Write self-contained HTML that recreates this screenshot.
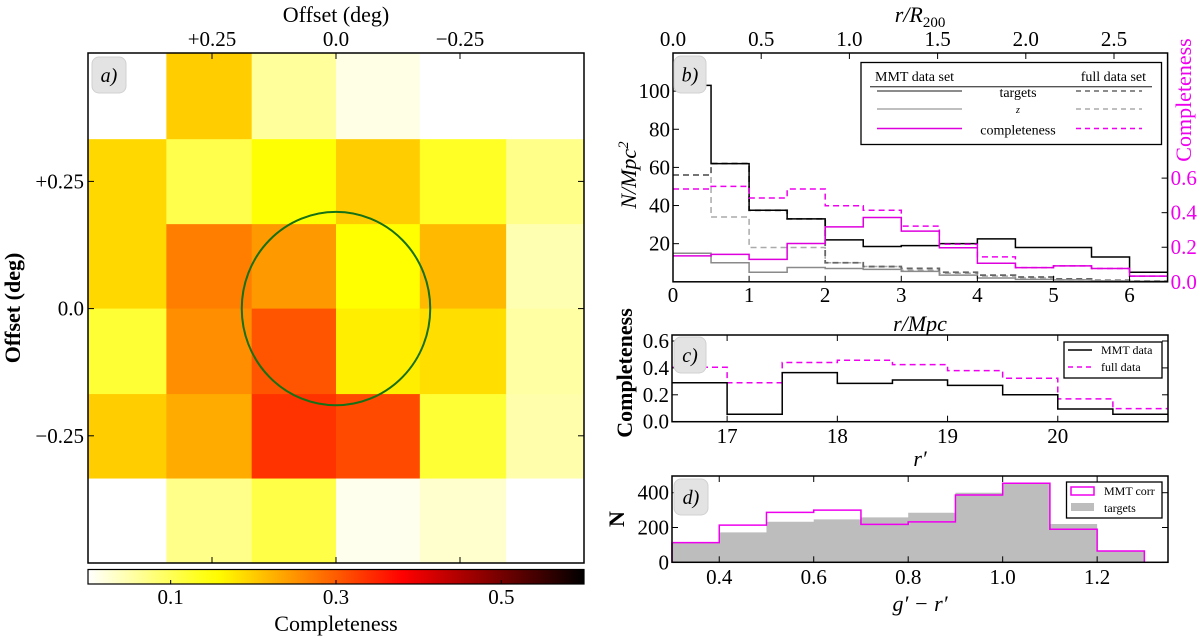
<!DOCTYPE html>
<html><head><meta charset="utf-8"><style>
html,body{margin:0;padding:0;background:#fff;width:1200px;height:638px;overflow:hidden}
svg text{font-family:"Liberation Serif",serif;fill:#000}
</style></head><body>
<svg id="fig" width="1200" height="638" viewBox="0 0 1200 638" xmlns="http://www.w3.org/2000/svg"></svg>
<script>
// ---------- Panel a data ----------
const aColEdgesDeg = [0.5, 0.342, 0.170, 0.0, -0.169, -0.343, -0.5];
const aRowEdgesDeg = [0.502, 0.333, 0.166, 0.0, -0.168, -0.334, -0.501];
const aCompleteness = [
  [0.00,0.20,0.06,0.015,0.00,0.00],
  [0.19,0.107,0.15,0.20,0.13,0.07],
  [0.19,0.27,0.246,0.155,0.217,0.046],
  [0.12,0.255,0.307,0.171,0.185,0.055],
  [0.20,0.23,0.336,0.316,0.12,0.05],
  [0.00,0.07,0.11,0.01,0.03,0.00]
];
const aXTicks = [0.25, 0.0, -0.25];
const aXTickLabels = ["+0.25","0.0","\u22120.25"];
const aYTicks = [0.25, 0.0, -0.25];
const aYTickLabels = ["+0.25","0.0","\u22120.25"];
const cbTicks = [0.1,0.3,0.5];
const cbTickLabels = ["0.1","0.3","0.5"];
const circleRadiusDeg = 0.19;
// ---------- Panel b data ----------
const bEdges = [0,0.5,1,1.5,2,2.5,3,3.5,4,4.5,5,5.5,6,6.5];
const bMmtTargets = [103,62,37.5,33,22,18.5,19,20,22.5,18,18,13,5];
const bMmtZ = [15,10,5,7.5,7,6.5,5.5,3.5,2,1.3,1,0.5,0.3];
const bFullTargets = [56,62,37.5,33,10,8,7,5,3.5,2.5,1.5,0.8,0.4];
const bFullZ = [56,34,18,18,10,8,6,4.5,3,2,1,0.5,0.3];
const bMmtComp = [0.15,0.159,0.13,0.222,0.318,0.372,0.293,0.197,0.107,0.082,0.092,0.077,0.033];
const bFullComp = [0.537,0.552,0.485,0.537,0.44,0.414,0.322,0.217,0.144,0.082,0.092,0.077,0.033];
const bXTicks = [0,1,2,3,4,5,6];
const bYTicks = [20,40,60,80,100];
const bY2Ticks = [0.0,0.2,0.4,0.6];
const bY2TickLabels = ["0.0","0.2","0.4","0.6"];
const bTopTicks = [0.0,0.5,1.0,1.5,2.0,2.5];
const bTopTickLabels = ["0.0","0.5","1.0","1.5","2.0","2.5"];
// ---------- Panel c data ----------
const cEdges = [16.5,17,17.5,18,18.5,19,19.5,20,20.5,21];
const cMmt = [0.29,0.055,0.365,0.285,0.31,0.27,0.2,0.094,0.055];
const cFull = [0.405,0.29,0.44,0.457,0.424,0.38,0.323,0.17,0.097];
const cXTicks = [17,18,19,20];
const cYTicks = [0.0,0.2,0.4,0.6];
const cYTickLabels = ["0.0","0.2","0.4","0.6"];
// ---------- Panel d data ----------
const dEdges = [0.3,0.4,0.5,0.6,0.7,0.8,0.9,1.0,1.1,1.2,1.3];
const dTargets = [113,172,233,247,258,285,400,457,220,65];
const dMmtCorr = [113,214,287,300,218,232,387,454,190,65];
const dXTicks = [0.4,0.6,0.8,1.0,1.2];
const dXTickLabels = ["0.4","0.6","0.8","1.0","1.2"];
const dYTicks = [0,200,400];

const NS="http://www.w3.org/2000/svg";
const svg=document.getElementById('fig');
function el(tag,attrs,parent,txt){const e=document.createElementNS(NS,tag);for(const k in attrs)e.setAttribute(k,attrs[k]);if(txt!==undefined)e.textContent=txt;(parent||svg).appendChild(e);return e;}
function lin(d0,d1,p0,p1){return v=>p0+(v-d0)*(p1-p0)/(d1-d0);}
function hotR(c){const x=1-Math.min(1,Math.max(0,c/0.6));
  const cl=v=>Math.round(255*Math.min(1,Math.max(0,v)));
  return `rgb(${cl(x/0.365)},${cl((x-0.365)/0.375)},${cl((x-0.746)/0.254)})`;}
function stepPath(edges,vals,xs,ys,drop){let d=`M${xs(edges[0])},${drop?ys(0):ys(vals[0])}`;
  for(let i=0;i<vals.length;i++){d+=`L${xs(edges[i])},${ys(vals[i])}L${xs(edges[i+1])},${ys(vals[i])}`;}
  if(drop)d+=`L${xs(edges[edges.length-1])},${ys(0)}`;return d;}
function labelBox(x,y,w,h,t,name){const g=el('g',{});
  
  
  el('rect',{x:x,y:y,width:w,height:h,rx:7,fill:'#e3e3e3',stroke:'#d0d0d0'},g);
  el('text',{x:x+w/2,y:y+h/2+7,'text-anchor':'middle','font-size':20,'font-style':'italic'},g,t);}
const defs=el('defs',{});

// ================= Panel a =================
const aL=88,aR=584,aT=53,aB=563;
const axs=lin(0,-0.25,336,460), ays=lin(0,-0.25,308.6,435.8);
const clipA=el('clipPath',{id:'clipa'},defs);el('rect',{x:aL,y:aT,width:aR-aL,height:aB-aT},clipA);
const aG=el('g',{'clip-path':'url(#clipa)'});


for(let r=0;r<6;r++)for(let c=0;c<6;c++){
  const x0=axs(aColEdgesDeg[c]),x1=axs(aColEdgesDeg[c+1]),y0=ays(aRowEdgesDeg[r]),y1=ays(aRowEdgesDeg[r+1]);
  const rc=el('rect',{x:x0,y:y0,width:x1-x0+0.5,height:y1-y0+0.5,fill:hotR(aCompleteness[r][c])},aG);
  
  
}
const circ=el('ellipse',{cx:axs(0),cy:ays(0),rx:Math.abs(axs(circleRadiusDeg)-axs(0)),ry:Math.abs(ays(circleRadiusDeg)-ays(0)),fill:'none',stroke:'#167016','stroke-width':2});


const aFr=el('rect',{x:aL,y:aT,width:aR-aL,height:aB-aT,fill:'none',stroke:'#000','stroke-width':1.5});


aXTicks.forEach((t,i)=>{const x=axs(t);
  el('line',{x1:x,x2:x,y1:aT,y2:aT+6,stroke:'#000'});el('line',{x1:x,x2:x,y1:aB,y2:aB-6,stroke:'#000'});
  const tx=el('text',{x:x,y:46,'text-anchor':'middle','font-size':21},svg,aXTickLabels[i]);
  
  });
aYTicks.forEach((t,i)=>{const y=ays(t);
  el('line',{x1:aL,x2:aL+6,y1:y,y2:y,stroke:'#000'});el('line',{x1:aR,x2:aR-6,y1:y,y2:y,stroke:'#000'});
  const tx=el('text',{x:aL-4,y:y+7,'text-anchor':'end','font-size':21},svg,aYTickLabels[i]);
  
  });
let t=el('text',{x:336,y:22,'text-anchor':'middle','font-size':22},svg,'Offset (deg)');


t=el('text',{x:0,y:0,'text-anchor':'middle','font-size':22,'font-weight':'bold',transform:'translate(20,308) rotate(-90)'},svg,'Offset (deg)');


labelBox(92,57,34,36,'a)','panel-label-a');
// colorbar
const cbx=lin(0,0.6,88,584);
const lg=el('linearGradient',{id:'cbg',x1:0,x2:1,y1:0,y2:0},defs);
for(let i=0;i<=30;i++){el('stop',{offset:(i/30),'stop-color':hotR(0.6*i/30)},lg);}
const cb=el('rect',{x:88,y:569.5,width:496,height:14.5,fill:'url(#cbg)',stroke:'#000','stroke-width':1.2});


cbTicks.forEach((v,i)=>{const x=cbx(v);el('line',{x1:x,x2:x,y1:584,y2:580,stroke:'#000'});
  const tx=el('text',{x:x,y:604,'text-anchor':'middle','font-size':21},svg,cbTickLabels[i]);
  
  });
t=el('text',{x:336,y:631,'text-anchor':'middle','font-size':22},svg,'Completeness');



// ================= Panel b =================
const bL=673,bR=1167.6,bT=53,bB=281.8;
const bxs=lin(0,6.5,bL,bR), bys=lin(0,120,bB,bT), by2=lin(0,1,bB,bB-172.8), btop=lin(0,2.5,bL,1114);
const clipB=el('clipPath',{id:'clipb'},defs);el('rect',{x:bL,y:bT,width:bR-bL,height:bB-bT},clipB);
const bG=el('g',{'clip-path':'url(#clipb)'});


function bLine(vals,ys,stroke,dash,w,name){const p=el('path',{d:stepPath(bEdges,vals,bxs,ys,false),fill:'none',stroke:stroke,'stroke-width':w,'stroke-dasharray':dash||'none'},bG);
  
  }
bLine(bFullZ,bys,'#aaaaaa','6,4',1.5,'full-z-line');
bLine(bFullTargets,bys,'#666666','6,4',1.8,'full-targets-line');
bLine(bMmtZ,bys,'#8a8a8a','',1.5,'mmt-z-line');
bLine(bMmtTargets,bys,'#000','',1.5,'mmt-targets-line');
bLine(bFullComp,by2,'#ee00ee','6,4',1.5,'full-completeness-line');
bLine(bMmtComp,by2,'#dd00dd','',1.5,'mmt-completeness-line');
const bFr=el('rect',{x:bL,y:bT,width:bR-bL,height:bB-bT,fill:'none',stroke:'#000','stroke-width':1.5});


bXTicks.forEach(v=>{const x=bxs(v);el('line',{x1:x,x2:x,y1:bB,y2:bB-6,stroke:'#000'});
  const tx=el('text',{x:x,y:302,'text-anchor':'middle','font-size':21},svg,String(v));
  
  });
bYTicks.forEach(v=>{const y=bys(v);el('line',{x1:bL,x2:bL+6,y1:y,y2:y,stroke:'#000'});
  const tx=el('text',{x:bL-3,y:y+7,'text-anchor':'end','font-size':21},svg,String(v));
  
  });
bY2Ticks.forEach((v,i)=>{const y=by2(v);el('line',{x1:bR,x2:bR-6,y1:y,y2:y,stroke:'#000'});
  const tx=el('text',{x:bR+3,y:y+7,'text-anchor':'start','font-size':21,style:'fill:#ee00ee'},svg,bY2TickLabels[i]);
  
  });
bTopTicks.forEach((v,i)=>{const x=btop(v);el('line',{x1:x,x2:x,y1:bT,y2:bT+6,stroke:'#000'});
  const tx=el('text',{x:x,y:46,'text-anchor':'middle','font-size':21},svg,bTopTickLabels[i]);
  
  });
t=el('text',{x:920,y:22,'text-anchor':'middle','font-size':22,'font-style':'italic'},svg);


t.innerHTML='r/R<tspan font-size="15" dy="5" font-style="normal">200</tspan>';
t=el('text',{x:920,y:331,'text-anchor':'middle','font-size':22,'font-style':'italic'},svg,'r/Mpc');


t=el('text',{x:0,y:0,'text-anchor':'middle','font-size':22,'font-style':'italic',transform:'translate(636,175) rotate(-90)'},svg);


t.innerHTML='N/Mpc<tspan font-size="15" dy="-8">2</tspan>';
t=el('text',{x:0,y:0,'text-anchor':'middle','font-size':22,transform:'translate(1191,100) rotate(-90)',style:'fill:#ee00ee'},svg,'Completeness');


labelBox(674,56,32,37,'b)','panel-label-b');
// legend b
const lgb=el('g',{});


el('rect',{x:861,y:62.5,width:300.5,height:82,fill:'#fff',stroke:'#000','stroke-width':1.3},lgb);
el('text',{x:875,y:81,'font-size':14},lgb,'MMT data set');
el('text',{x:1146,y:81,'font-size':14,'text-anchor':'end'},lgb,'full data set');
el('line',{x1:870,x2:1152,y1:86.7,y2:86.7,stroke:'#555','stroke-width':1.3},lgb);
const lgRows=[['targets',91,'#666','#666'],['z',109,'#aaa','#aaa'],['completeness',128.5,'#dd00dd','#ee00ee']];
lgRows.forEach(r=>{el('line',{x1:877,x2:962,y1:r[1],y2:r[1],stroke:r[2],'stroke-width':1.5},lgb);
  el('line',{x1:1076,x2:1142,y1:r[1],y2:r[1],stroke:r[3],'stroke-width':1.5,'stroke-dasharray':'5,4'},lgb);
  el('text',{x:1018,y:r[1]+(r[0]==='z'?4:6),'text-anchor':'middle','font-size':r[0]==='z'?10:14,'font-style':r[0]==='z'?'italic':'normal'},lgb,r[0]);});

// ================= Panel c =================
const cL=672,cR=1168,cT=335,cB=421.7;
const cxs=lin(16.5,21,cL,cR), cys=lin(0,0.6,cB,341);
const cG=el('g',{});


let p=el('path',{d:stepPath(cEdges,cFull,cxs,cys,false),fill:'none',stroke:'#ee00ee','stroke-width':1.5,'stroke-dasharray':'6,4'},cG);


p=el('path',{d:stepPath(cEdges,cMmt,cxs,cys,false),fill:'none',stroke:'#000','stroke-width':1.5},cG);


const cFr=el('rect',{x:cL,y:cT,width:cR-cL,height:cB-cT,fill:'none',stroke:'#000','stroke-width':1.5});


cXTicks.forEach(v=>{const x=cxs(v);el('line',{x1:x,x2:x,y1:cB,y2:cB-6,stroke:'#000'});el('line',{x1:x,x2:x,y1:cT,y2:cT+6,stroke:'#000'});
  const tx=el('text',{x:x,y:443,'text-anchor':'middle','font-size':21},svg,String(v));
  
  });
cYTicks.forEach((v,i)=>{const y=cys(v);el('line',{x1:cL,x2:cL+6,y1:y,y2:y,stroke:'#000'});el('line',{x1:cR,x2:cR-6,y1:y,y2:y,stroke:'#000'});
  const tx=el('text',{x:cL-3,y:y+7,'text-anchor':'end','font-size':21},svg,cYTickLabels[i]);
  
  });
t=el('text',{x:920,y:466,'text-anchor':'middle','font-size':22,'font-style':'italic'},svg,"r\u2032");


t=el('text',{x:0,y:0,'text-anchor':'middle','font-size':22,'font-weight':'bold',transform:'translate(632,373) rotate(-90)'},svg,'Completeness');


labelBox(674,337,32,36,'c)','panel-label-c');
const lgc=el('g',{});


el('rect',{x:1064,y:342,width:98,height:36,fill:'#fff',stroke:'#000','stroke-width':1.3},lgc);
el('line',{x1:1068,x2:1092,y1:350,y2:350,stroke:'#000','stroke-width':1.5},lgc);
el('line',{x1:1068,x2:1092,y1:367,y2:367,stroke:'#ee00ee','stroke-width':1.5,'stroke-dasharray':'5,4'},lgc);
el('text',{x:1101,y:354,'font-size':12},lgc,'MMT data');
el('text',{x:1101,y:371,'font-size':12},lgc,'full data');

// ================= Panel d =================
const dL=672,dR=1168,dT=476,dB=562.3;
const dxs=lin(0.3,1.35,dL,dR), dys=lin(0,400,dB,492.7);
const dG=el('g',{});


p=el('path',{d:stepPath(dEdges,dTargets,dxs,dys,true)+'Z',fill:'#bdbdbd',stroke:'none'},dG);


p=el('path',{d:stepPath(dEdges,dMmtCorr,dxs,dys,true),fill:'none',stroke:'#ee00ee','stroke-width':1.5},dG);


const dFr=el('rect',{x:dL,y:dT,width:dR-dL,height:dB-dT,fill:'none',stroke:'#000','stroke-width':1.5});


dXTicks.forEach((v,i)=>{const x=dxs(v);el('line',{x1:x,x2:x,y1:dB,y2:dB-6,stroke:'#000'});el('line',{x1:x,x2:x,y1:dT,y2:dT+6,stroke:'#000'});
  const tx=el('text',{x:x,y:584,'text-anchor':'middle','font-size':21},svg,dXTickLabels[i]);
  
  });
dYTicks.forEach(v=>{const y=dys(v);el('line',{x1:dL,x2:dL+6,y1:y,y2:y,stroke:'#000'});el('line',{x1:dR,x2:dR-6,y1:y,y2:y,stroke:'#000'});
  const tx=el('text',{x:dL-3,y:y+7,'text-anchor':'end','font-size':21},svg,String(v));
  
  });
t=el('text',{x:920,y:611,'text-anchor':'middle','font-size':22,'font-style':'italic'},svg,"g\u2032 \u2212 r\u2032");


t=el('text',{x:0,y:0,'text-anchor':'middle','font-size':22,'font-weight':'bold',transform:'translate(624,519) rotate(-90)'},svg,'N');


labelBox(674,479,34,36,'d)','panel-label-d');
const lgd=el('g',{});


el('rect',{x:1066.5,y:482,width:95.5,height:36,fill:'#fff',stroke:'#000','stroke-width':1.3},lgd);
el('rect',{x:1071,y:487,width:23,height:8,fill:'#fff',stroke:'#ee00ee','stroke-width':1.5},lgd);
el('rect',{x:1071,y:503,width:23,height:8,fill:'#bdbdbd'},lgd);
el('text',{x:1104,y:495,'font-size':12},lgd,'MMT corr');
el('text',{x:1104,y:512,'font-size':12},lgd,'targets');
</script>
</body></html>
